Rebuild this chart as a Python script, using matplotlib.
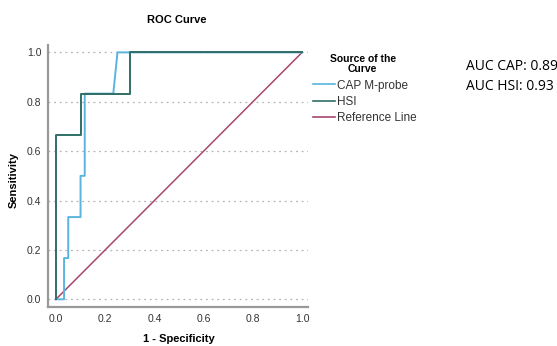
import numpy as np
import matplotlib.pyplot as plt
from matplotlib.lines import Line2D

plt.rcParams['font.family'] = ['Liberation Sans', 'DejaVu Sans']

# ROC points (1 - specificity, sensitivity)
cap_fpr = [0.0, 0.033, 0.033, 0.05, 0.05, 0.1, 0.1, 0.117, 0.117, 0.233, 0.25, 1.0]
cap_tpr = [0.0, 0.0, 0.167, 0.167, 0.333, 0.333, 0.5, 0.5, 0.833, 0.833, 1.0, 1.0]
hsi_fpr = [0.0, 0.0, 0.1, 0.1, 0.3, 0.3, 1.0]
hsi_tpr = [0.0, 0.667, 0.667, 0.833, 0.833, 1.0, 1.0]
ref_x = [0.0, 1.0]
ref_y = [0.0, 1.0]
ticks = [0.0, 0.2, 0.4, 0.6, 0.8, 1.0]
auc_labels = ['AUC CAP: 0.89', 'AUC HSI: 0.93']

c_cap = '#5ab4e0'
c_hsi = '#2f6f66'
c_ref = '#a8466f'

fig = plt.figure(figsize=(5.57, 3.46), dpi=100)
ax = fig.add_axes([0.0867, 0.1136, 0.4663, 0.7564])

ax.plot(ref_x, ref_y, color=c_ref, linewidth=1.1)
ax.plot(cap_fpr, cap_tpr, color=c_cap, linewidth=1.4)
ax.plot(hsi_fpr, hsi_tpr, color=c_hsi, linewidth=1.4)

ax.set_xlim(-0.031, 1.024)
ax.set_ylim(-0.03, 1.03)
ax.set_xticks(ticks)
ax.set_yticks(ticks)
ax.set_xticklabels([f'{t:.1f}' for t in ticks])
ax.set_yticklabels([f'{t:.1f}' for t in ticks])
ax.tick_params(length=0, labelsize=7.5, colors='#333333', pad=5)
ax.yaxis.grid(True, linestyle=(0, (1.5, 3)), color='#b5b5b5', linewidth=0.9)
ax.set_axisbelow(True)

for s in ['top', 'right']:
    ax.spines[s].set_visible(False)
for s in ['left', 'bottom']:
    ax.spines[s].set_color('#999999')
    ax.spines[s].set_linewidth(1.6)

fig.text(0.318, 0.942, 'ROC Curve', fontsize=8, fontweight='bold', ha='center', va='center')
fig.text(0.321, 0.02, '1 - Specificity', fontsize=8, fontweight='bold', ha='center', va='center')
fig.text(0.025, 0.48, 'Sensitivity', fontsize=8, fontweight='bold', ha='center', va='center',
         rotation=90)

# legend
fig.text(0.651, 0.815, 'Source of the\nCurve', fontsize=7.5, fontweight='bold', ha='center',
         va='center', linespacing=1.0)
handles = [Line2D([], [], color=c_cap, linewidth=1.2),
           Line2D([], [], color=c_hsi, linewidth=1.2),
           Line2D([], [], color=c_ref, linewidth=1.2)]
names = ['CAP M-probe', 'HSI', 'Reference Line']
fig.legend(handles, names, loc='upper left', bbox_to_anchor=(0.562, 0.77), frameon=False,
           fontsize=8.5, handlelength=1.9, handletextpad=0.1, labelspacing=0.35,
           borderaxespad=0, borderpad=0, labelcolor='#333333')

fig.text(0.836, 0.807, auc_labels[0], fontsize=10, family='Open Sans', va='center')
fig.text(0.836, 0.749, auc_labels[1], fontsize=10, family='Open Sans', va='center')

plt.savefig('out.png', dpi=100)
